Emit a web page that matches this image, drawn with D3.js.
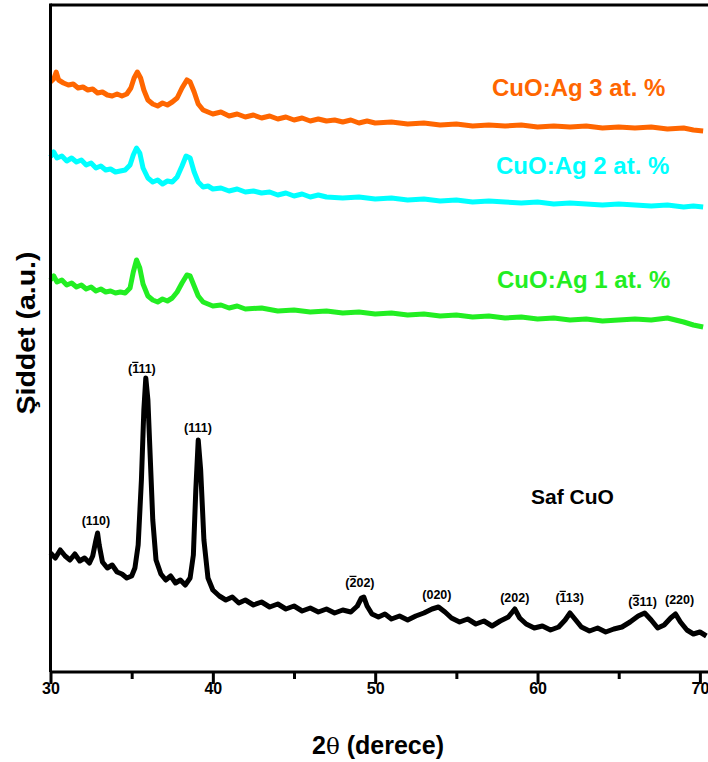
<!DOCTYPE html>
<html>
<head>
<meta charset="utf-8">
<script src="https://cdn.jsdelivr.net/npm/d3@7"></script>
<style>
  body { margin: 0; background: #fff; }
  svg { display: block; font-family: "Liberation Sans", Arial, sans-serif; }
</style>
</head>
<body>
<svg id="chart" width="708" height="762"></svg>
<script>
// intensity in a.u. (arbitrary offset per pattern)
const thetaCuO = [30.0,30.3,30.6,30.9,31.2,31.5,31.8,32.1,32.4,32.6,32.8,32.9,33.0,33.2,33.5,33.8,34.1,34.4,34.7,35.0,35.2,35.4,35.6,35.75,35.87,36.0,36.15,36.3,36.5,36.8,37.1,37.4,37.7,38.0,38.3,38.6,38.8,38.95,39.1,39.25,39.45,39.7,40.0,40.4,40.8,41.2,41.6,42.0,42.5,43.0,43.5,44.0,44.5,45.0,45.5,46.0,46.5,47.0,47.5,48.0,48.5,48.9,49.15,49.3,49.5,49.8,50.2,50.6,51.0,51.5,52.0,52.5,53.0,53.5,53.9,54.3,54.7,55.2,55.7,56.2,56.7,57.2,57.7,58.2,58.6,58.9,59.3,59.8,60.3,60.8,61.3,61.7,62.0,62.3,62.7,63.2,63.7,64.2,64.7,65.2,65.7,66.2,66.6,67.0,67.4,67.8,68.2,68.5,68.8,69.2,69.6,70.0,70.4];
const intCuO = [119,114,122,116,112,118,111,114,109,116,132,139,127,110,104,107,100,98,94,96,104,127,192,262,294,272,212,152,112,98,92,96,89,92,87,94,117,182,232,202,132,94,82,76,72,75,69,72,67,70,65,68,63,66,61,64,60,63,59,62,60,66,74,75,66,58,55,58,53,56,52,56,59,63,65,60,54,50,53,48,51,46,51,55,63,54,48,44,46,42,45,52,59,53,45,41,44,40,43,45,50,56,59,52,44,47,54,58,50,42,38,40,36];

const thetaAg3 = [30.0,30.2,30.35,30.5,30.8,31.1,31.4,31.7,32.0,32.3,32.6,32.9,33.2,33.5,33.8,34.1,34.4,34.7,34.95,35.15,35.35,35.55,35.75,36.0,36.3,36.6,36.9,37.2,37.5,37.8,38.1,38.4,38.6,38.85,39.1,39.4,39.7,40.0,40.5,41.0,41.5,42.0,42.5,43.0,43.5,44.0,44.5,45.0,45.5,46.0,46.5,47.0,47.5,48.0,48.5,49.0,49.5,50.0,51.0,52.0,53.0,54.0,55.0,56.0,57.0,58.0,59.0,60.0,61.0,62.0,63.0,64.0,65.0,66.0,67.0,68.0,69.0,69.6,70.2];
const intAg3 = [590,593,600,592,589,587,588,584,585,582,583,579,580,577,576,578,576,578,584,594,600,594,582,572,568,566,569,567,570,574,584,592,590,580,568,562,560,558,560,556,558,555,557,554,556,553,555,552,554,551,553,551,552,550,552,549,551,549,550,548,549,547,548,546,547,546,547,545,546,545,546,544,545,544,545,543,544,542,541];

const thetaAg2 = [30.0,30.2,30.4,30.7,31.0,31.3,31.6,31.9,32.2,32.5,32.8,33.1,33.4,33.7,34.0,34.3,34.6,34.9,35.1,35.3,35.5,35.7,36.0,36.3,36.6,36.9,37.2,37.5,37.8,38.1,38.35,38.6,38.85,39.1,39.4,39.7,40.0,40.5,41.0,41.5,42.0,42.5,43.0,43.5,44.0,44.5,45.0,45.5,46.0,46.5,47.0,48.0,49.0,50.0,51.0,52.0,53.0,54.0,55.0,56.0,57.0,58.0,59.0,60.0,61.0,62.0,63.0,64.0,65.0,66.0,67.0,68.0,69.0,69.6,70.2];
const intAg2 = [515,520,514,516,511,514,510,512,507,509,504,506,502,503,500,501,502,507,517,524,519,504,494,490,492,488,491,490,495,506,516,514,500,490,485,486,483,484,481,483,480,481,479,480,477,479,476,478,475,477,475,474,475,473,474,472,473,471,472,470,471,470,469,470,468,469,468,467,468,467,466,467,465,466,465];

const thetaAg1 = [30.0,30.2,30.4,30.7,31.0,31.3,31.6,31.9,32.2,32.5,32.8,33.1,33.4,33.7,34.0,34.3,34.6,34.9,35.1,35.3,35.5,35.7,36.0,36.3,36.6,36.9,37.2,37.5,37.8,38.1,38.4,38.6,38.85,39.1,39.4,39.7,40.0,40.5,41.0,41.5,42.0,43.0,44.0,45.0,46.0,47.0,48.0,49.0,50.0,51.0,52.0,53.0,54.0,55.0,56.0,57.0,58.0,59.0,60.0,61.0,62.0,63.0,64.0,65.0,66.0,67.0,68.0,69.0,69.6,70.2];
const intAg1 = [392,396,390,392,387,389,385,387,383,385,381,383,380,381,379,380,379,384,400,412,404,388,376,372,370,373,371,374,380,389,397,396,386,376,370,368,366,367,364,366,363,364,361,362,360,361,359,360,358,359,357,358,356,357,355,356,354,355,353,354,352,353,351,352,353,352,354,350,347,345];

const seriesNames = ["CuO:Ag 3 at. %", "CuO:Ag 2 at. %", "CuO:Ag 1 at. %", "Saf CuO"];
const seriesColors = ["#ff6600", "#00ffff", "#22ee22", "#000000"];

// peak labels: 2theta, intensity of label centre, hkl text, index of barred char (-1 none)
const peakTheta = [32.80, 35.63, 39.08, 49.06, 53.80, 58.6, 61.98, 66.47, 68.75];
const peakLabelInt = [151, 303, 244, 89, 77, 74, 74, 70, 72];
const peakHkl = ["(110)", "(111)", "(111)", "(202)", "(020)", "(202)", "(113)", "(311)", "(220)"];
const peakBar = [-1, 1, -1, 1, -1, -1, 1, 1, -1];

const xTicks = [30, 35, 40, 45, 50, 55, 60, 65, 70];

const svg = d3.select("#chart");
const mLeft = 50.5, mTop = 5, mBottom = 672, mRight = 708;

const x = d3.scaleLinear().domain([30, 70.5]).range([mLeft, mRight]);
const y = d3.scaleLinear().domain([0, 667]).range([mBottom, mTop]);

const line = d3.line().x(d => x(d[0])).y(d => y(d[1]));

const series = [
  [thetaAg3, intAg3],
  [thetaAg2, intAg2],
  [thetaAg1, intAg1],
  [thetaCuO, intCuO]
];

series.forEach((s, i) => {
  svg.append("path")
    .datum(d3.zip(s[0], s[1]))
    .attr("fill", "none")
    .attr("stroke", seriesColors[i])
    .attr("stroke-width", 5)
    .attr("stroke-linejoin", "round")
    .attr("d", line);
});

// frame: top line + left axis
svg.append("line").attr("x1", mLeft).attr("x2", mRight).attr("y1", mTop).attr("y2", mTop)
  .attr("stroke", "#000").attr("stroke-width", 3);
svg.append("line").attr("x1", mLeft).attr("x2", mLeft).attr("y1", mTop - 1.5).attr("y2", mBottom)
  .attr("stroke", "#000").attr("stroke-width", 3);

// x axis
const xAxis = d3.axisBottom(x).tickValues(xTicks)
  .tickSize(0).tickPadding(0)
  .tickFormat(d => d % 10 === 0 ? d : "");
const gx = svg.append("g").attr("transform", `translate(0,${mBottom})`).call(xAxis);
gx.select(".domain").attr("stroke-width", 3).attr("d", `M${mLeft},0H${mRight}`);
gx.selectAll(".tick line")
  .attr("stroke-width", 3)
  .attr("y2", d => d % 10 === 0 ? 12 : 7);
gx.selectAll(".tick text")
  .attr("y", 11)
  .attr("dy", "0.71em")
  .attr("font-size", 16)
  .attr("font-weight", "bold")
  .attr("fill", "#000")
  .attr("font-family", "Liberation Sans, Arial, sans-serif");

// axis titles
const xt = svg.append("text")
  .attr("x", 378).attr("y", 754)
  .attr("text-anchor", "middle")
  .attr("font-size", 25).attr("font-weight", "bold");
xt.append("tspan").text("2");
xt.append("tspan").attr("font-weight", "normal").attr("font-family", "DejaVu Serif, serif").attr("font-size", 23).text("θ");
xt.append("tspan").text(" (derece)");

svg.append("text")
  .attr("transform", "translate(35,333) rotate(-90)")
  .attr("text-anchor", "middle")
  .attr("font-size", 26).attr("font-weight", "bold")
  .attr("textLength", 163).attr("lengthAdjust", "spacingAndGlyphs")
  .text("Şiddet (a.u.)");

// series labels
const labelPos = [[492, 88], [496, 166], [497, 280], [531, 497]];
seriesNames.forEach((n, i) => {
  svg.append("text")
    .attr("x", labelPos[i][0]).attr("y", labelPos[i][1])
    .attr("dy", "0.35em")
    .attr("font-size", i === 3 ? 21 : 24)
    .attr("font-weight", "bold")
    .attr("fill", seriesColors[i])
    .text(n);
});

// peak labels with overbars
peakHkl.forEach((t, i) => {
  const tx = svg.append("text")
    .attr("x", x(peakTheta[i])).attr("y", y(peakLabelInt[i]))
    .attr("dy", "0.35em")
    .attr("text-anchor", "middle")
    .attr("font-size", 12.5).attr("font-weight", "bold")
    .text(t);
  if (peakBar[i] >= 0) {
    const node = tx.node();
    const s = node.getStartPositionOfChar(peakBar[i]);
    const e = node.getEndPositionOfChar(peakBar[i]);
    svg.append("line")
      .attr("x1", s.x).attr("x2", e.x)
      .attr("y1", s.y - 11).attr("y2", s.y - 11)
      .attr("stroke", "#000").attr("stroke-width", 1.2);
  }
});
</script>
</body>
</html>
